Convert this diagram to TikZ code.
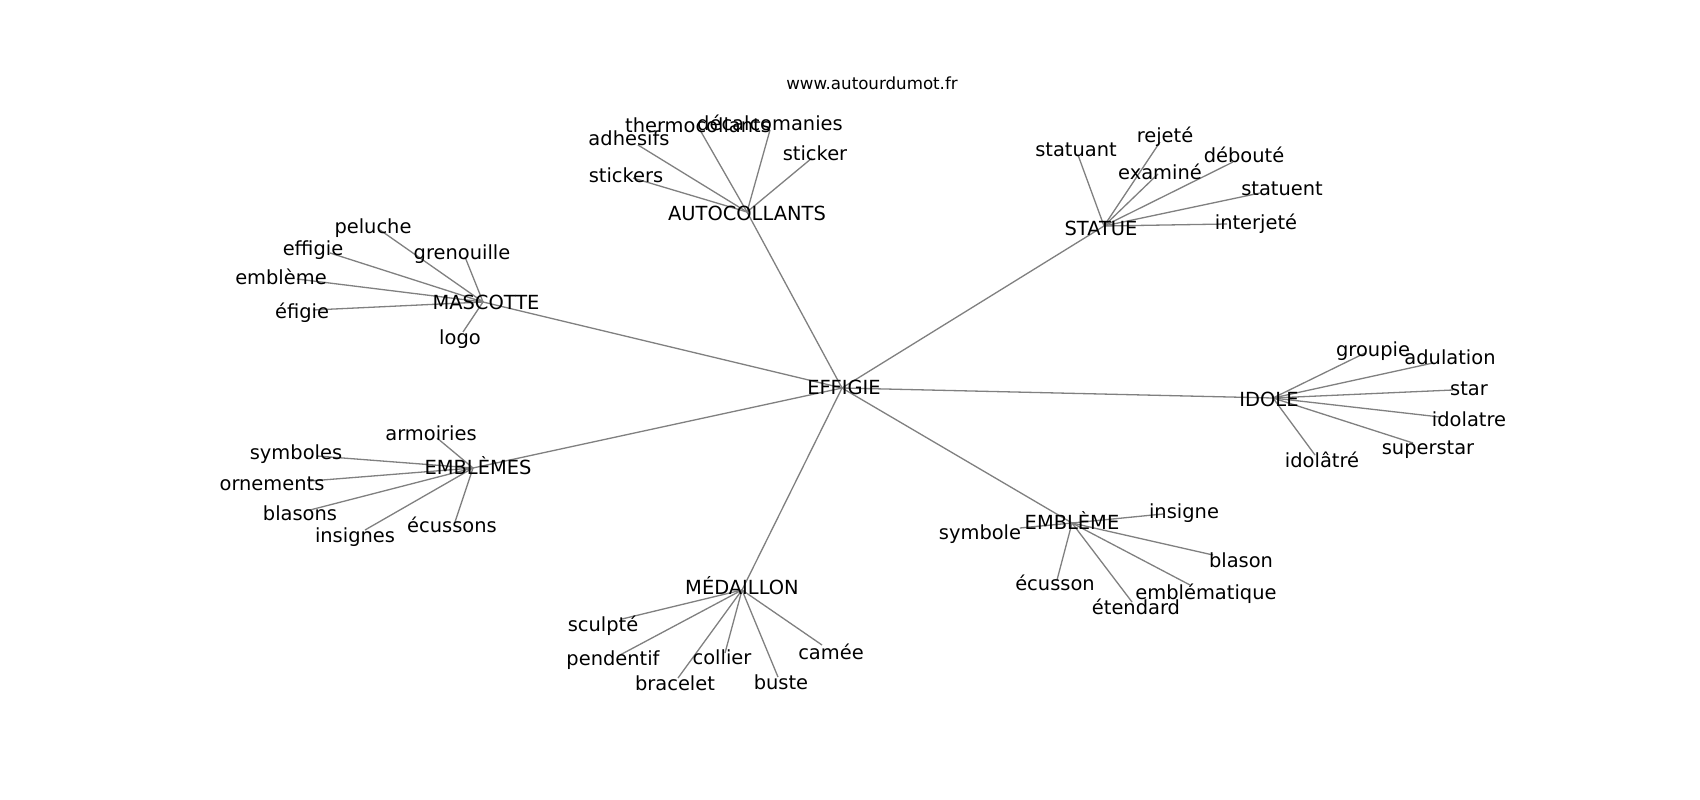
\documentclass[tikz,border=0pt]{standalone}
\usepackage{fontspec}
\setmainfont{DejaVu Sans}
\begin{document}
\begin{tikzpicture}[x=1pt,y=-1pt,
  edge/.style={draw=black!50, line width=1.3pt},
  lbl/.style={anchor=base, inner sep=0pt, yshift=-7.5pt, font=\fontsize{19.44}{23}\selectfont, text=black},
  ttl/.style={anchor=base, inner sep=0pt, yshift=-6pt, font=\fontsize{16.67}{20}\selectfont, text=black}]
\useasboundingbox[fill=white] (0,0) rectangle (1700,800);
% vertex positions
\coordinate (vEFFIGIE) at (842,388);
\coordinate (vAUTO) at (747,212);
\coordinate (vadhesifs) at (638,145);
\coordinate (vstickers) at (633,178);
\coordinate (vthermo) at (700,130);
\coordinate (vdecal) at (770,130);
\coordinate (vsticker) at (812,158);
\coordinate (vSTATUE) at (1104,226);
\coordinate (vstatuant) at (1078,155);
\coordinate (vrejete) at (1160,142);
\coordinate (vexamine) at (1158,174);
\coordinate (vdeboute) at (1233,162);
\coordinate (vstatuent) at (1260,193);
\coordinate (vinterjete) at (1227,224);
\coordinate (vMASCOTTE) at (483,302);
\coordinate (vpeluche) at (380,230);
\coordinate (veffigie) at (330,253);
\coordinate (vgrenouille) at (465,257);
\coordinate (vembleme) at (297,279);
\coordinate (vefigie) at (313,310);
\coordinate (vlogo) at (463,332);
\coordinate (vIDOLE) at (1273,398);
\coordinate (vgroupie) at (1365,353);
\coordinate (vadulation) at (1433,363);
\coordinate (vstar) at (1453,390);
\coordinate (vidolatre) at (1440,417);
\coordinate (vsuperstar) at (1413,443);
\coordinate (vidolatrea) at (1315,455);
\coordinate (vEMBLEMES) at (473,468);
\coordinate (varmoiries) at (437,438);
\coordinate (vsymboles) at (317,456);
\coordinate (vornements) at (310,481);
\coordinate (vblasons) at (310,510);
\coordinate (vinsignes) at (365,530);
\coordinate (vecussons) at (455,522);
\coordinate (vEMBLEME) at (1072,523);
\coordinate (vinsigne) at (1163,514);
\coordinate (vsymbole) at (1020,528);
\coordinate (vblason) at (1213,555);
\coordinate (vemblematique) at (1190,585);
\coordinate (vecusson) at (1057,580);
\coordinate (vetendard) at (1132,602);
\coordinate (vMEDAILLON) at (742,590);
\coordinate (vsculpte) at (622,619);
\coordinate (vpendentif) at (620,655);
\coordinate (vcollier) at (725,653);
\coordinate (vcamee) at (822,645);
\coordinate (vbracelet) at (678,678);
\coordinate (vbuste) at (778,677);
% edges
\foreach \h in {vAUTO,vSTATUE,vMASCOTTE,vIDOLE,vEMBLEMES,vEMBLEME,vMEDAILLON}
  \draw[edge] (vEFFIGIE) -- (\h);
\foreach \l in {vadhesifs,vstickers,vthermo,vdecal,vsticker}
  \draw[edge] (vAUTO) -- (\l);
\foreach \l in {vstatuant,vrejete,vexamine,vdeboute,vstatuent,vinterjete}
  \draw[edge] (vSTATUE) -- (\l);
\foreach \l in {vpeluche,veffigie,vgrenouille,vembleme,vefigie,vlogo}
  \draw[edge] (vMASCOTTE) -- (\l);
\foreach \l in {vgroupie,vadulation,vstar,vidolatre,vsuperstar,vidolatrea}
  \draw[edge] (vIDOLE) -- (\l);
\foreach \l in {varmoiries,vsymboles,vornements,vblasons,vinsignes,vecussons}
  \draw[edge] (vEMBLEMES) -- (\l);
\foreach \l in {vinsigne,vsymbole,vblason,vemblematique,vecusson,vetendard}
  \draw[edge] (vEMBLEME) -- (\l);
\foreach \l in {vsculpte,vpendentif,vcollier,vcamee,vbracelet,vbuste}
  \draw[edge] (vMEDAILLON) -- (\l);
% labels
\node[ttl] (title) at (872,83) {www.autourdumot.fr};
\node[lbl] (lEFFIGIE) at (844,387) {EFFIGIE};
\node[lbl] (lAUTO) at (747,213) {AUTOCOLLANTS};
\node[lbl] (ladhesifs) at (629,138) {adhesifs};
\node[lbl] (lstickers) at (626,175) {stickers};
\node[lbl] (lthermo) at (698,125) {thermocollants};
\node[lbl] (ldecal) at (770,123) {décalcomanies};
\node[lbl] (lsticker) at (815,153) {sticker};
\node[lbl] (lSTATUE) at (1101,228) {STATUE};
\node[lbl] (lstatuant) at (1076,149) {statuant};
\node[lbl] (lrejete) at (1165,135) {rejeté};
\node[lbl] (lexamine) at (1160,172) {examiné};
\node[lbl] (ldeboute) at (1244,155) {débouté};
\node[lbl] (lstatuent) at (1282,188) {statuent};
\node[lbl] (linterjete) at (1256,222) {interjeté};
\node[lbl] (lMASCOTTE) at (486,302) {MASCOTTE};
\node[lbl] (lpeluche) at (373,226) {peluche};
\node[lbl] (leffigie) at (313,248) {effigie};
\node[lbl] (lgrenouille) at (462,252) {grenouille};
\node[lbl] (lembleme) at (281,277) {emblème};
\node[lbl] (lefigie) at (302,311) {éfigie};
\node[lbl] (llogo) at (460,337) {logo};
\node[lbl] (lIDOLE) at (1269,399) {IDOLE};
\node[lbl] (lgroupie) at (1373,349) {groupie};
\node[lbl] (ladulation) at (1450,357) {adulation};
\node[lbl] (lstar) at (1469,388) {star};
\node[lbl] (lidolatre) at (1469,419) {idolatre};
\node[lbl] (lsuperstar) at (1428,447) {superstar};
\node[lbl] (lidolatrea) at (1322,460) {idolâtré};
\node[lbl] (lEMBLEMES) at (478,467) {EMBLÈMES};
\node[lbl] (larmoiries) at (431,433) {armoiries};
\node[lbl] (lsymboles) at (296,452) {symboles};
\node[lbl] (lornements) at (272,483) {ornements};
\node[lbl] (lblasons) at (300,513) {blasons};
\node[lbl] (linsignes) at (355,535) {insignes};
\node[lbl] (lecussons) at (452,525) {écussons};
\node[lbl] (lEMBLEME) at (1072,522) {EMBLÈME};
\node[lbl] (linsigne) at (1184,511) {insigne};
\node[lbl] (lsymbole) at (980,532) {symbole};
\node[lbl] (lblason) at (1241,560) {blason};
\node[lbl] (lemblematique) at (1206,592) {emblématique};
\node[lbl] (lecusson) at (1055,583) {écusson};
\node[lbl] (letendard) at (1136,607) {étendard};
\node[lbl] (lMEDAILLON) at (742,587) {MÉDAILLON};
\node[lbl] (lsculpte) at (603,624) {sculpté};
\node[lbl] (lpendentif) at (613,658) {pendentif};
\node[lbl] (lcollier) at (722,657) {collier};
\node[lbl] (lcamee) at (831,652) {camée};
\node[lbl] (lbracelet) at (675,683) {bracelet};
\node[lbl] (lbuste) at (781,682) {buste};
\end{tikzpicture}
\end{document}
